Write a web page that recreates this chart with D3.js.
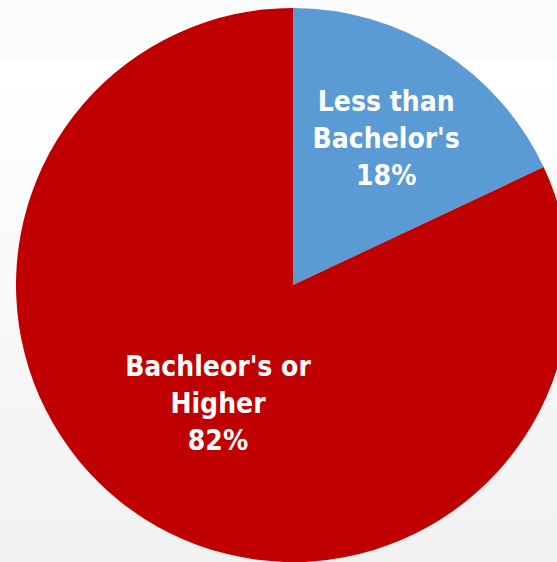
<!DOCTYPE html>
<html>
<head>
<meta charset="utf-8">
<script src="https://cdn.jsdelivr.net/npm/d3@7"></script>
<style>
  body { margin: 0; overflow: hidden; }
  text { font-family: "DejaVu Sans Condensed", "DejaVu Sans", sans-serif; font-stretch: condensed; font-weight: bold; }
</style>
</head>
<body>
<div id="chart"></div>
<script>
var categories = ["Less than Bachelor's", "Bachleor's or Higher"];
var values = [18, 82];
var labelLines = [["Less than", "Bachelor's", "18%"], ["Bachleor's or", "Higher", "82%"]];
var colors = ["#5B9BD5", "#C00000"];

var w = 557, h = 562;
var cx = 293, cy = 285, r = 277;

var svg = d3.select('#chart').append('svg')
  .attr('width', w)
  .attr('height', h);

// background: faint band on top, then white fading to light grey
var grad = svg.append('defs').append('linearGradient')
  .attr('id', 'bg')
  .attr('x1', 0).attr('y1', 0).attr('x2', 0).attr('y2', 1);
grad.append('stop').attr('offset', '0%').attr('stop-color', '#ffffff');
grad.append('stop').attr('offset', '100%').attr('stop-color', '#f1f1f1');

svg.append('rect').attr('x', 0).attr('y', 0).attr('width', w).attr('height', 60).attr('fill', '#fcfcfc');
svg.append('rect').attr('x', 0).attr('y', 60).attr('width', w).attr('height', h - 60).attr('fill', 'url(#bg)');

var pie = d3.pie().sort(null).value(function(d) { return d; });
var arcs = pie(values);

var arc = d3.arc().innerRadius(0).outerRadius(r);

var g = svg.append('g').attr('transform', 'translate(' + cx + ',' + cy + ')');

g.selectAll('path')
  .data(arcs)
  .enter().append('path')
  .attr('d', arc)
  .attr('fill', function(d, i) { return colors[i]; });

// label distance from the centre, per slice
var labelR = [174, 140];
var lineH = 37;

arcs.forEach(function(d, i) {
  var a = (d.startAngle + d.endAngle) / 2;
  var lx = labelR[i] * Math.sin(a);
  var ly = -labelR[i] * Math.cos(a);
  var lines = labelLines[i];
  var t = g.append('text')
    .attr('text-anchor', 'middle')
    .attr('fill', '#ffffff')
    .attr('font-size', 28);
  lines.forEach(function(s, k) {
    t.append('tspan')
      .attr('x', lx)
      .attr('y', ly + (k - (lines.length - 1) / 2) * lineH + 10)
      .text(s);
  });
});
</script>
</body>
</html>
